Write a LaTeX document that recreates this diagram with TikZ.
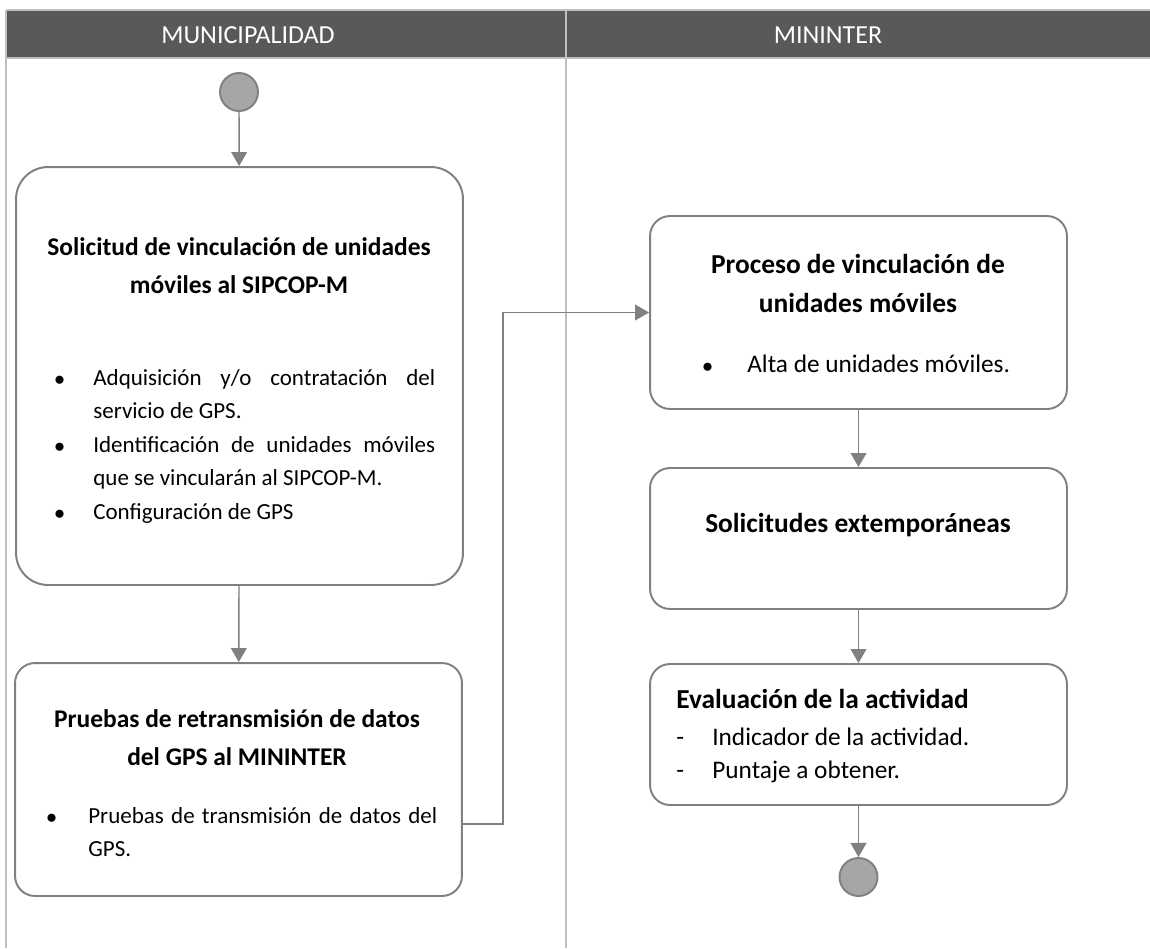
\documentclass[tikz,border=0pt]{standalone}
\usepackage{fontspec}
\setmainfont{Carlito}
\usetikzlibrary{arrows.meta}
\definecolor{cabecera}{HTML}{595959}
\definecolor{linea}{HTML}{BFBFBF}
\definecolor{borde}{HTML}{808080}
\definecolor{relleno}{HTML}{A6A6A6}
\newcommand{\punto}[3]{\noindent\hangindent=#1\hangafter=1\makebox[#1][l]{#2}#3\par}

\begin{document}
\begin{tikzpicture}[x=0.02cm, y=-0.02cm,
carril/.style={draw=linea, line width=1.1pt},
caja/.style={draw=borde, line width=1.1pt, fill=white, minimum width=8.34cm},
estado/.style={circle, draw=borde, line width=1.1pt, fill=relleno, minimum size=0.76cm, inner sep=0pt},
titulo/.style={font=\fontsize{15.6}{22.2}\selectfont\bfseries, align=center, inner sep=0pt, anchor=base},
titulomuni/.style={titulo, font=\fontsize{14.5}{21.6}\selectfont\bfseries},
lista/.style={font=\fontsize{14.4}{19}\selectfont, align=justify, inner sep=0pt, anchor=base west},
listamuni/.style={lista, font=\fontsize{13.1}{19.07}\selectfont},
carriltxt/.style={text=white, font=\fontsize{14.8}{17}\selectfont, inner sep=0pt, anchor=base},
flecha/.style={draw=borde, line width=0.8pt, -{Triangle[width=9pt,length=8pt]}}]
\useasboundingbox (0,0) rectangle (1150,948);
% carriles
\fill[cabecera] (6,10) rectangle (1150,58);
\draw[carril] (6,10) -- (1150,10);
\draw[carril] (6,58) -- (1150,58);
\draw[carril] (6,10) -- (6,948);
\draw[carril] (566,10) -- (566,948);
\node[carriltxt] (munic) at (248,43) {MUNICIPALIDAD};
\node[carriltxt] (minin) at (828,43) {MININTER};
% municipalidad
\node[estado] (inicio) at (239,92) {};
\node[caja, rounded corners=0.64cm, minimum width=8.94cm, minimum height=8.36cm] (solic) at (239.5,376) {};
\node[titulomuni] (solict) at (239,293) {Solicitud de vinculación de unidades\\móviles al SIPCOP-M};
\node[listamuni, text width=7.62cm] (solicl) at (54,385) {\punto{0.78cm}{\large$\bullet$}{Adquisición y/o contratación del\linebreak servicio de GPS.}
\punto{0.78cm}{\large$\bullet$}{Identificación de unidades móviles\linebreak que se vincularán al SIPCOP-M.}
\punto{0.78cm}{\large$\bullet$}{Configuración de GPS}};
\node[caja, rounded corners=0.4cm, minimum width=8.94cm, minimum height=4.66cm] (prueb) at (238.5,779.5) {};
\node[titulomuni] (pruebt) at (237,765) {Pruebas de retransmisión de datos\\del GPS al MININTER};
\node[listamuni, text width=7.82cm] (pruebl) at (46,823) {\punto{0.84cm}{\large$\bullet$}{Pruebas de transmisión de datos del\linebreak GPS.}};
% mininter
\node[caja, rounded corners=0.4cm, minimum height=3.86cm] (proce) at (858.5,312.5) {};
\node[titulo] (procet) at (858,312) {Proceso de vinculación de\\unidades móviles};
\node[lista, text width=6.9cm] (procel) at (702,372) {\punto{0.9cm}{\large$\bullet$}{Alta de unidades móviles.}};
\node[caja, rounded corners=0.4cm, minimum height=2.82cm] (extem) at (858.5,538.5) {};
\node[titulo] (extemt) at (858,532) {Solicitudes extemporáneas};
\node[caja, rounded corners=0.4cm, minimum height=2.82cm] (evalu) at (858.5,734.5) {};
\node[titulo, anchor=base west] (evalut) at (676,708) {Evaluación de la actividad};
\node[lista, text width=6.8cm] (evalul) at (676,745) {\punto{0.72cm}{-}{Indicador de la actividad.}
\punto{0.72cm}{-}{Puntaje a obtener.}};
\node[estado] (fin) at (858.5,877) {};
% flechas
\draw[flecha] (inicio) -- (solic);
\draw[flecha] (solic) -- (prueb);
\draw[flecha] ([yshift=-0.89cm]prueb.east) -- ++(40,0) |- (proce);
\draw[flecha] (proce) -- (extem);
\draw[flecha] (extem) -- (evalu);
\draw[flecha] (evalu) -- (fin);
\end{tikzpicture}
\end{document}
